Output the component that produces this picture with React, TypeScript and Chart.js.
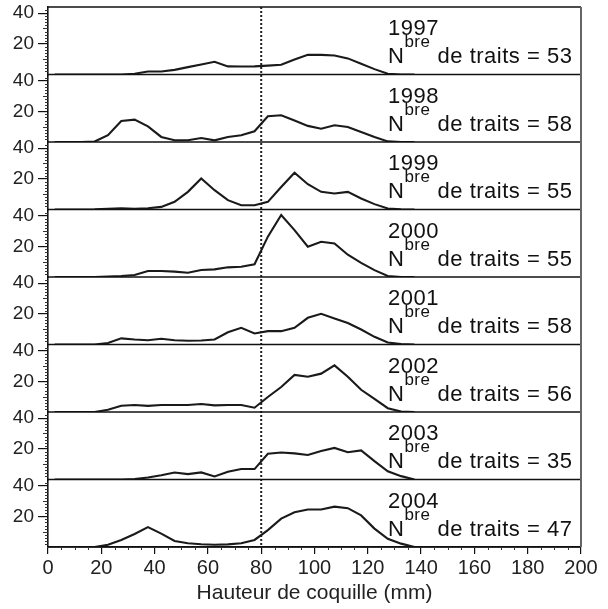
import React, { useEffect, useRef } from 'react';
import { Chart, registerables } from 'chart.js';

Chart.register(...registerables);

// Size-class midpoints (mm)
const SIZE_CLASSES = [
  2.5, 7.5, 12.5, 17.5, 22.5, 27.5, 32.5, 37.5, 42.5, 47.5, 52.5, 57.5, 62.5, 67.5,
  72.5, 77.5, 82.5, 87.5, 92.5, 97.5, 102.5, 107.5, 112.5, 117.5, 122.5, 127.5, 132.5, 137.5,
];

const YEARS = ['1997', '1998', '1999', '2000', '2001', '2002', '2003', '2004'];
const TRAITS = [53, 58, 55, 55, 58, 56, 35, 47];

const D1997 = [0, 0, 0, 0, 0, 0, 0.5, 2, 2, 3, 4.8, 6.5, 8.3, 5.3, 5.2, 5.3, 5.8, 6.3, 9.8, 12.8, 12.8, 12.4, 10.5, 7, 3.5, 0.5, 0, 0];
const D1998 = [0, 0, 0, 0.3, 4.4, 13.7, 14.6, 10.2, 3.3, 1.1, 1.1, 2.6, 1.1, 3.3, 4.4, 7, 16.8, 17.4, 14, 10.5, 8.7, 10.9, 9.8, 6.5, 3.3, 0.4, 0, 0];
const D1999 = [0, 0, 0, 0.1, 0.4, 0.8, 0.4, 0.8, 1.7, 5, 11.5, 20.2, 12.6, 6.1, 2.8, 2.8, 5, 14.7, 24, 16.5, 11.5, 10.4, 11.5, 7.2, 3.5, 0.7, 0.2, 0];
const D2000 = [0, 0, 0, 0, 0.3, 0.7, 1.3, 3.9, 3.9, 3.5, 2.8, 4.6, 5, 6.3, 6.7, 8.3, 26.3, 40.4, 30.6, 19.7, 23, 21.9, 14.5, 9.2, 4.5, 0.7, 0, 0];
const D2001 = [0, 0, 0, 0, 1, 4, 3.3, 2.8, 3.7, 2.8, 2.4, 2.6, 3.3, 8, 10.9, 7.2, 8.7, 8.7, 10.9, 17.4, 20, 17, 14, 9.8, 5, 1.3, 0.3, 0];
const D2002 = [0, 0, 0, 0, 1.5, 4.1, 4.6, 4, 4.6, 4.6, 4.6, 5.2, 4.3, 4.6, 4.6, 2.8, 9.8, 16.3, 24.2, 23, 25, 30.4, 23, 14.5, 8.5, 2.5, 0.3, 0];
const D2003 = [0, 0, 0, 0, 0, 0, 0.3, 1.3, 2.8, 4.6, 3.5, 4.6, 2, 5, 6.8, 6.8, 16.8, 17.6, 17, 16, 18.6, 20.6, 17.8, 19, 12, 5.4, 2.2, 0];
const D2004 = [0, 0, 0, 0, 1.5, 4.6, 8.5, 13, 8.7, 3.9, 2.4, 1.8, 1.5, 1.7, 2.4, 4.6, 11, 18.5, 22.6, 24.4, 24.4, 26.3, 25.3, 20.6, 12, 5.4, 2.2, 0];

const SERIES = [D1997, D1998, D1999, D2000, D2001, D2002, D2003, D2004];

const Y_TICKS = [20, 40];
const Y_MAX = 44;
const X_MIN = 0;
const X_MAX = 200;
const X_STEP = 20;
const SPLIT_MM = 80;

const FONT = '"Liberation Sans", Arial, sans-serif';

function line(ctx: CanvasRenderingContext2D, x1: number, y1: number, x2: number, y2: number) {
  ctx.beginPath();
  ctx.moveTo(x1, y1);
  ctx.lineTo(x2, y2);
  ctx.stroke();
}

const framePlugin = {
  id: 'frame',
  beforeDatasetsDraw(chart: any) {
    const ctx: CanvasRenderingContext2D = chart.ctx;
    const { top, bottom } = chart.chartArea;
    const px = chart.scales.x.getPixelForValue(SPLIT_MM);
    ctx.save();
    ctx.strokeStyle = '#222';
    ctx.lineWidth = 2;
    ctx.setLineDash([2, 2]);
    line(ctx, px, top, px, bottom);
    ctx.restore();
  },
  afterDatasetsDraw(chart: any) {
    const ctx: CanvasRenderingContext2D = chart.ctx;
    const { left, right, top, bottom } = chart.chartArea;
    ctx.save();
    ctx.strokeStyle = '#111';
    ctx.lineWidth = 1.6;
    line(ctx, left, top, right, top);
    YEARS.forEach((yr) => {
      const s = chart.scales['y' + yr];
      line(ctx, left, s.bottom, right, s.bottom);
    });
    ctx.strokeStyle = '#666';
    ctx.lineWidth = 2;
    line(ctx, right, top, right, bottom);

    // minor ticks
    ctx.strokeStyle = '#333';
    ctx.lineWidth = 1;
    YEARS.forEach((yr) => {
      const s = chart.scales['y' + yr];
      for (let v = 2; v < Y_MAX; v += 2) {
        if (Y_TICKS.includes(v)) continue;
        const py = Math.round(s.getPixelForValue(v)) + 0.5;
        line(ctx, left - (v % 10 === 0 ? 5 : 3), py, left, py);
      }
    });
    const xs = chart.scales.x;
    for (let v = 5; v < X_MAX; v += 5) {
      if (v % X_STEP === 0) continue;
      const px = Math.round(xs.getPixelForValue(v)) + 0.5;
      line(ctx, px, bottom, px, bottom + 3);
    }

    // annotations
    ctx.fillStyle = '#111';
    ctx.textBaseline = 'alphabetic';
    ctx.textAlign = 'left';
    YEARS.forEach((yr, i) => {
      const s = chart.scales['y' + yr];
      const x0 = 388;
      (ctx as any).letterSpacing = '0.5px';
      ctx.font = `22px ${FONT}`;
      ctx.fillText(yr, x0, s.top + 28);
      const base = s.top + 56;
      (ctx as any).letterSpacing = '0px';
      ctx.fillText('N', x0, base);
      const wN = ctx.measureText('N').width;
      (ctx as any).letterSpacing = '0.5px';
      ctx.font = `17px ${FONT}`;
      ctx.fillText('bre', x0 + wN + 0.5, base - 16);
      const wS = ctx.measureText('bre').width;
      ctx.font = `22px ${FONT}`;
      ctx.fillText(` de traits = ${TRAITS[i]}`, x0 + wN + wS + 1, base);
    });
    ctx.restore();
  },
};

export default function App() {
  const ref = useRef<HTMLCanvasElement | null>(null);

  useEffect(() => {
    if (!ref.current) return;
    const datasets = YEARS.map((yr, i) => ({
      label: yr,
      data: SIZE_CLASSES.map((x, j) => ({ x, y: SERIES[i][j] })),
      yAxisID: 'y' + yr,
      borderColor: '#1a1a1a',
      borderWidth: 2.1,
      pointRadius: 0,
      tension: 0,
      fill: false,
    }));

    const scales: any = {
      x: {
        type: 'linear',
        position: 'bottom',
        min: X_MIN,
        max: X_MAX,
        ticks: {
          stepSize: X_STEP,
          autoSkip: false,
          maxRotation: 0,
          padding: 2,
          color: '#222',
          font: { family: FONT, size: 20 },
        },
        grid: { drawOnChartArea: false, drawTicks: true, tickLength: 7, color: '#111', lineWidth: 1.2 },
        border: { display: true, color: '#111', width: 1.6 },
        title: {
          display: true,
          text: 'Hauteur de coquille (mm)',
          color: '#222',
          font: { family: FONT, size: 21 },
          padding: { top: 0, bottom: 3 },
        },
        afterFit: (s: any) => {
          s.height = 62;
          s.paddingLeft = 0;
          s.paddingRight = 0;
        },
      },
    };
    // defined bottom-to-top so that the first year ends up in the top panel
    [...YEARS].reverse().forEach((yr) => {
      scales['y' + yr] = {
        type: 'linear',
        position: 'left',
        stack: 'panels',
        stackWeight: 1,
        min: 0,
        max: Y_MAX,
        afterBuildTicks: (s: any) => {
          s.ticks = Y_TICKS.map((v) => ({ value: v }));
        },
        ticks: {
          padding: 4,
          color: '#222',
          font: { family: FONT, size: 19 },
        },
        grid: { drawOnChartArea: false, drawTicks: true, tickLength: 10, color: '#111', lineWidth: 1.2 },
        border: { display: true, color: '#111', width: 1.6 },
        afterFit: (s: any) => {
          s.width = 48;
          s.paddingTop = 0;
          s.paddingBottom = 0;
        },
      };
    });

    const chart = new Chart(ref.current, {
      type: 'line',
      data: { datasets },
      options: {
        responsive: false,
        animation: false,
        devicePixelRatio: 1,
        layout: { padding: { top: 7, right: 27, left: 0, bottom: 0 } },
        plugins: { legend: { display: false }, tooltip: { enabled: false } },
        scales,
      },
      plugins: [framePlugin],
    } as any);
    return () => chart.destroy();
  }, []);

  return (
    <div style={{ position: 'absolute', left: 0, top: 0, width: 608, height: 609, background: '#fff' }}>
      <canvas ref={ref} width={608} height={609} style={{ display: 'block' }} />
    </div>
  );
}
